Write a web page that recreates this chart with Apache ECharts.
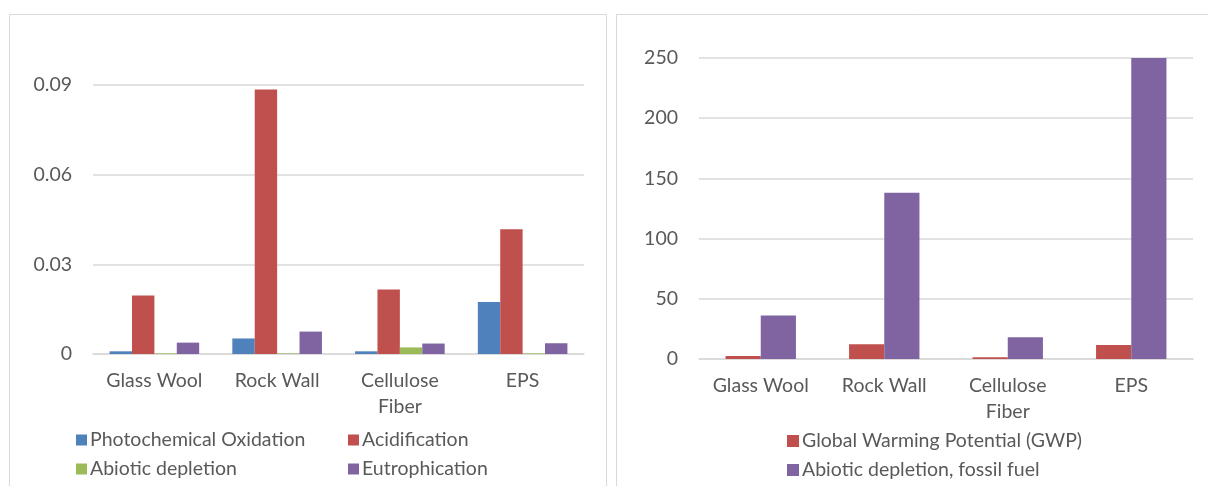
<!DOCTYPE html>
<html>
<head>
<meta charset="utf-8">
<script src="https://cdn.jsdelivr.net/npm/echarts@6/dist/echarts.min.js"></script>
<style>
  html, body { margin: 0; padding: 0; background: #ffffff; }
  #chart { width: 1208px; height: 486px; }
</style>
</head>
<body>
<div id="chart"></div>
<script>
// Insulation materials compared on both panels
const materials = ['Glass Wool', 'Rock Wall', 'Cellulose\nFiber', 'EPS'];

// Left panel: impact categories
const photochemicalOxidation = [0.0009, 0.0052, 0.0009, 0.0174];
const acidification = [0.0196, 0.0885, 0.0216, 0.0417];
const abioticDepletion = [0.0002, 0.0002, 0.0022, 0.0002];
const eutrophication = [0.0038, 0.0075, 0.0035, 0.0036];
const leftTicks = { min: 0, max: 0.09, interval: 0.03 };

// Right panel: GWP and fossil fuel depletion
const globalWarming = [2.5, 12.2, 1.4, 11.6];
const abioticFossil = [36.2, 138, 18, 250];
const rightTicks = { min: 0, max: 250, interval: 50 };

const FONT = 'Lato';
const TEXT = '#595959';
const GRID = '#d9d9d9';
const COLORS = { blue: '#4f81bd', red: '#c0504d', green: '#9bbb59', purple: '#8064a2' };

const chart = echarts.init(document.getElementById('chart'), null, { renderer: 'canvas' });

const textStyle = { fontFamily: FONT, fontSize: 19.5, color: TEXT };

function catAxis(gridIndex) {
  return {
    type: 'category', gridIndex, data: materials,
    axisLine: { show: true, lineStyle: { color: GRID, width: 1.5 } },
    axisTick: { show: false },
    axisLabel: { ...textStyle, margin: 14, lineHeight: 26, interval: 0 }
  };
}
function valAxis(gridIndex, t) {
  return {
    type: 'value', gridIndex, min: t.min, max: t.max, interval: t.interval,
    axisLine: { show: false }, axisTick: { show: false },
    splitLine: { lineStyle: { color: GRID, width: 1.5 } },
    axisLabel: { ...textStyle, margin: 21 }
  };
}
function bar(name, data, color, idx, catGap) {
  return {
    type: 'bar', name, data, xAxisIndex: idx, yAxisIndex: idx,
    barGap: '0%', barCategoryGap: catGap,
    itemStyle: { color }, emphasis: { disabled: true }, animation: false
  };
}
function legend(names, left, top, size) {
  return {
    data: names, orient: 'vertical', left, top,
    icon: 'rect', itemWidth: size, itemHeight: size, itemGap: 9,
    textStyle: { ...textStyle, lineHeight: 19, padding: [0, 0, 0, -2] },
    selectedMode: false
  };
}

chart.setOption({
  animation: false,
  backgroundColor: '#ffffff',
  graphic: [
    { type: 'rect', shape: { x: 9.5, y: 14.5, width: 597, height: 490 },
      style: { fill: 'none', stroke: GRID, lineWidth: 1 }, silent: true },
    { type: 'rect', shape: { x: 616.5, y: 14.5, width: 600, height: 490 },
      style: { fill: 'none', stroke: GRID, lineWidth: 1 }, silent: true }
  ],
  grid: [
    { left: 93, top: 85, width: 491, height: 269 },
    { left: 699, top: 58, width: 494, height: 301 }
  ],
  xAxis: [catAxis(0), catAxis(1)],
  yAxis: [valAxis(0, leftTicks), valAxis(1, rightTicks)],
  legend: [
    legend(['Photochemical Oxidation', 'Abiotic depletion'], 71, 425, 11),
    legend(['Acidification', 'Eutrophication'], 343, 425, 11),
    legend(['Global Warming Potential (GWP)', 'Abiotic depletion, fossil fuel'], 782, 426, 12)
  ],
  series: [
    bar('Photochemical Oxidation', photochemicalOxidation, COLORS.blue, 0, '27%'),
    bar('Acidification', acidification, COLORS.red, 0, '27%'),
    bar('Abiotic depletion', abioticDepletion, COLORS.green, 0, '27%'),
    bar('Eutrophication', eutrophication, COLORS.purple, 0, '27%'),
    bar('Global Warming Potential (GWP)', globalWarming, COLORS.red, 1, '43%'),
    bar('Abiotic depletion, fossil fuel', abioticFossil, COLORS.purple, 1, '43%')
  ]
});
</script>
</body>
</html>
